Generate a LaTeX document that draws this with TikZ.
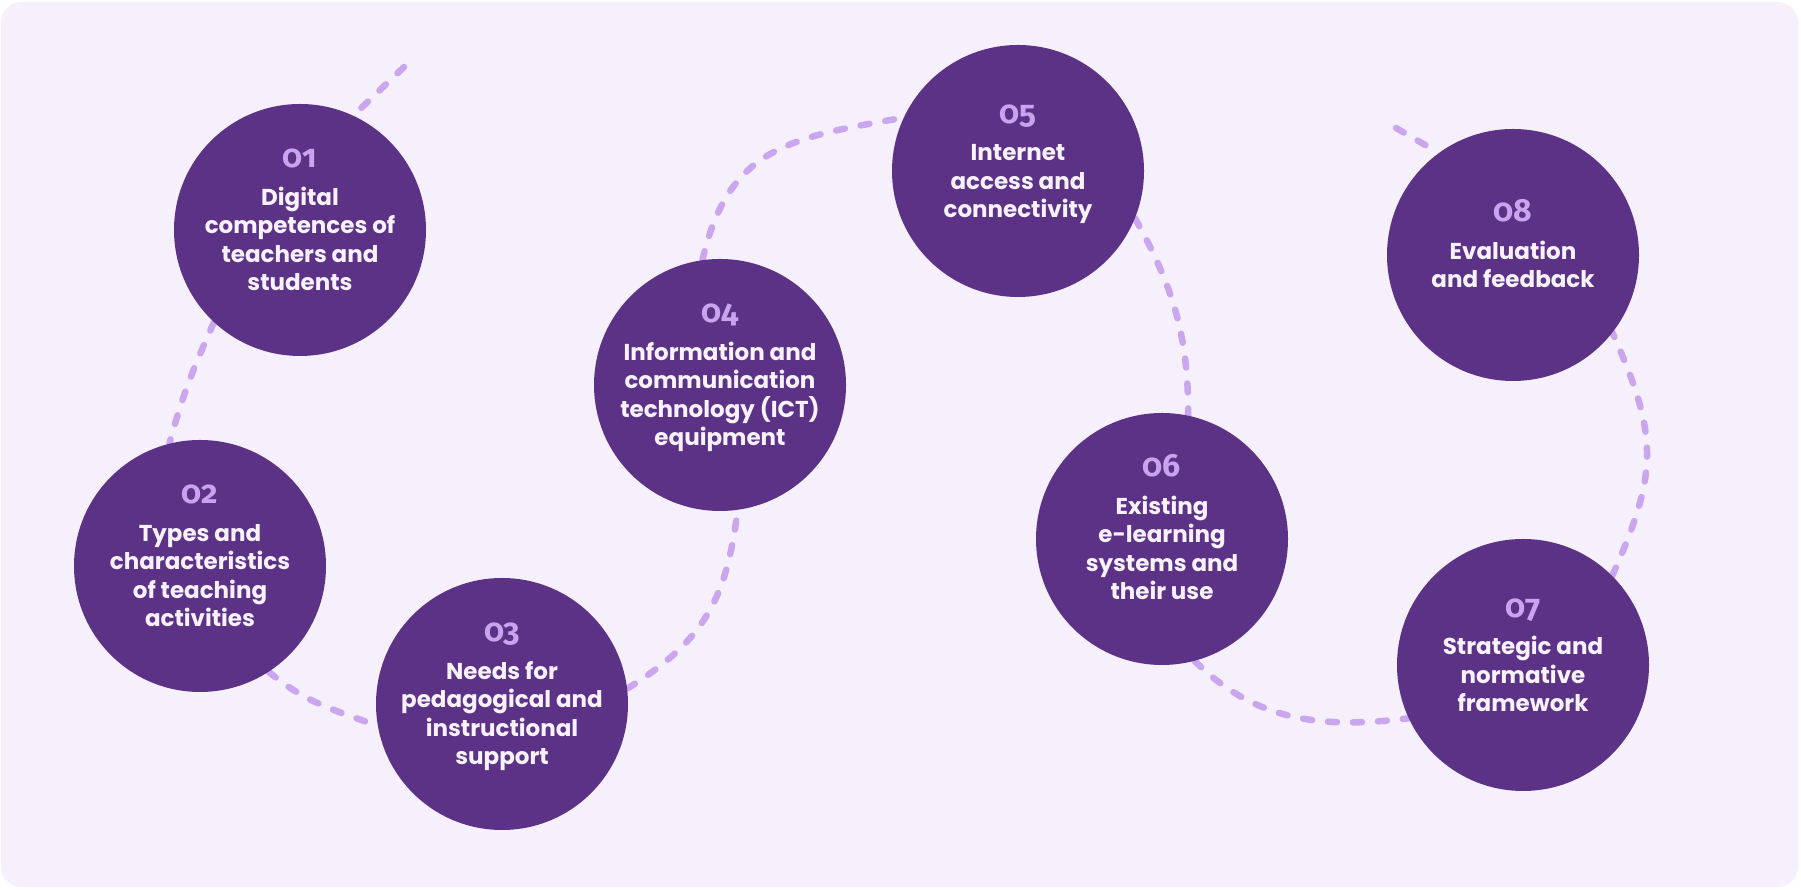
\documentclass[tikz,border=0pt]{standalone}
\usepackage{fontspec}
\newfontfamily\pop{Poppins}
\newfontfamily\numf{Fira Sans}[Numbers=OldStyle]
\usetikzlibrary{backgrounds}
\definecolor{bgc}{HTML}{F6F0FD}
\definecolor{circc}{HTML}{5C3287}
\definecolor{dashc}{HTML}{CAA6EE}
\definecolor{numc}{HTML}{C9A4EE}
\definecolor{txtc}{HTML}{F8F2FD}
\begin{document}
\begin{tikzpicture}[x=1pt,y=1pt,
 circ/.style={circle, fill=circc, minimum size=252pt, inner sep=0pt},
 numlab/.style={font=\numf\bfseries\fontsize{32}{32}\selectfont, text=numc, anchor=base, inner sep=0pt},
 txtlab/.style={font=\pop\bfseries\fontsize{23}{28.5}\selectfont, text=txtc, align=center, anchor=north, inner sep=0pt},
 dashline/.style={draw=dashc, line width=6.5pt, line cap=round, dash pattern=on 9pt off 16pt}]
\useasboundingbox (0,0) rectangle (1801,890);
\begin{pgfonlayer}{background}
\fill[white] (0,0) rectangle (1801,890);
\fill[bgc, rounded corners=20pt] (1,3) rectangle (1798,888);
\end{pgfonlayer}
% circles
\node[circ] (n1) at (300,660) {};
\node[circ] (n2) at (200,324) {};
\node[circ] (n3) at (502,186) {};
\node[circ] (n4) at (720,505) {};
\node[circ] (n5) at (1018,719) {};
\node[circ] (n6) at (1162,351) {};
\node[circ] (n7) at (1523,225) {};
\node[circ] (n8) at (1513,635) {};
% labels
\node[numlab] (l1n) at (300,722) {01};
\node[txtlab] (l1) at (300,705) {\strut Digital\\competences of\\teachers and\\students};
\node[numlab] (l2n) at (200,386) {02};
\node[txtlab] (l2) at (200,369) {\strut Types and\\characteristics\\of teaching\\activities};
\node[numlab] (l3n) at (502,248) {03};
\node[txtlab] (l3) at (502,231) {\strut Needs for\\pedagogical and\\instructional\\support};
\node[numlab] (l4n) at (720,567) {04};
\node[txtlab] (l4) at (720,550) {\strut Information and\\communication\\technology (ICT)\\equipment};
\node[numlab] (l5n) at (1018,766.5) {05};
\node[txtlab] (l5) at (1018,749.5) {\strut Internet\\access and\\connectivity};
\node[numlab] (l6n) at (1162,413) {06};
\node[txtlab] (l6) at (1162,396) {\strut Existing\\e-learning\\systems and\\their use};
\node[numlab] (l7n) at (1523,272.5) {07};
\node[txtlab] (l7) at (1523,255.5) {\strut Strategic and\\normative\\framework};
\node[numlab] (l8n) at (1513,668) {08};
\node[txtlab] (l8) at (1513,651) {\strut Evaluation\\and feedback};
% dashed connectors
\coordinate (tA) at (404,823);
\coordinate (tB) at (1396,762);
\begin{pgfonlayer}{background}
\draw[dashline] (tA) -- (n1.65);
\draw[dashline] (n1.227) to[out=246,in=75] (n2.104);
\draw[dashline] (n2.303) to[out=320,in=160] (n3.190);
\draw[dashline] (n3.7) to[out=32,in=263,looseness=1.1] (n4.278);
\draw[dashline] (n4.98) to[out=77,in=190,looseness=1.2] (n5.155);
\draw[dashline] (n5.338) to[out=299,in=90] (n6.78);
\draw[dashline] (n6.285) to[out=315,in=187] (n7.205);
\draw[dashline] (n7.45) to[out=66,in=294,looseness=1.2] (n8.322);
\draw[dashline] (tB) -- (n8.126);
\end{pgfonlayer}
\end{tikzpicture}
\end{document}
